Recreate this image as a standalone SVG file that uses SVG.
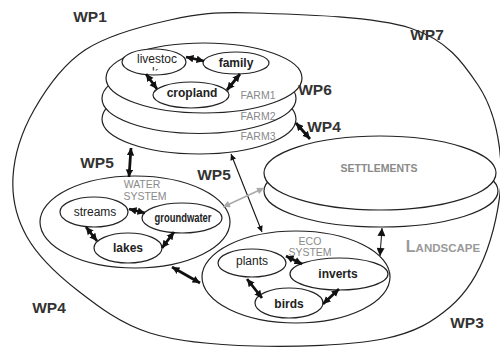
<svg xmlns="http://www.w3.org/2000/svg" width="500" height="347" viewBox="0 0 500 347">
<style>
  .ol{fill:#fff;stroke:#222;stroke-width:1.2}
  .bg{fill:none;stroke:#222;stroke-width:1.2}
  .wp{font-family:"Liberation Sans",Arial,sans-serif;font-weight:bold;font-size:15.5px;fill:#333;text-anchor:middle}
  .nd{font-family:"Liberation Sans",Arial,sans-serif;font-size:12px;fill:#222;text-anchor:middle}
  .b{font-weight:bold}
  .gl{font-family:"Liberation Sans",Arial,sans-serif;font-size:10.5px;fill:#8a8a8a;text-anchor:middle}
  .ar{stroke:#111;stroke-width:2.8;fill:none}
</style>
<defs>
  <marker id="dh" viewBox="0 0 10 10" refX="10" refY="5" markerWidth="7.5" markerHeight="8" markerUnits="userSpaceOnUse" orient="auto-start-reverse">
    <path d="M0,0 L10,5 L0,10 z" fill="#111"/>
  </marker>
  <marker id="th" viewBox="0 0 10 10" refX="10" refY="5" markerWidth="9" markerHeight="6" markerUnits="userSpaceOnUse" orient="auto-start-reverse">
    <path d="M0,0 L10,5 L0,10 z" fill="#111"/>
  </marker>
  <marker id="gh" viewBox="0 0 10 10" refX="10" refY="5" markerWidth="9" markerHeight="7" markerUnits="userSpaceOnUse" orient="auto-start-reverse">
    <path d="M0,0 L10,5 L0,10 z" fill="#aaa"/>
  </marker>
  <marker id="dm" viewBox="0 0 10 10" refX="10" refY="5" markerWidth="14" markerHeight="8" markerUnits="userSpaceOnUse" orient="auto-start-reverse">
    <path d="M0,0 L10,5 L0,10 z" fill="#111"/>
  </marker>
  <clipPath id="kclip"><rect x="150" y="66" width="10" height="4.5"/></clipPath>
</defs>

<g id="landscape">
  <path class="bg" d="M255,13 C295,14.3 372.8,16 410,28 C447.2,40 462.8,62.2 478,85 C493.2,107.8 499.5,137.5 501,165 C502.5,192.5 495.5,226.3 487,250 C478.5,273.7 467.3,292.2 450,307 C432.7,321.8 415.5,332.5 383,339 C350.5,345.5 293.8,347 255,346 C216.2,345 179.7,342.3 150,333 C120.3,323.7 97.5,306 77,290 C56.5,274 37.7,255.8 27,237 C16.3,218.2 11.8,198.2 13,177 C14.2,155.8 22,131.2 34,110 C46,88.8 62.3,65 85,50 C107.7,35 141.7,26.2 170,20 C198.3,13.8 215,11.7 255,13 Z"/>
  <text x="443" y="252" font-family="'Liberation Sans',Arial,sans-serif" font-weight="bold" fill="#999" text-anchor="middle"><tspan font-size="16">L</tspan><tspan font-size="11.5">ANDSCAPE</tspan></text>
</g>

<g id="farms">
  <ellipse class="ol" cx="199" cy="119" rx="97" ry="35"/>
  <ellipse class="ol" cx="199" cy="98.5" rx="97" ry="35"/>
  <ellipse class="ol" cx="204" cy="78" rx="98" ry="35"/>
  <text class="gl" x="258" y="99">FARM1</text>
  <text class="gl" x="258" y="120">FARM2</text>
  <text class="gl" x="258" y="140">FARM3</text>
</g>
<g id="livestock">
  <ellipse class="ol" cx="154" cy="62" rx="32" ry="13"/>
  <text class="nd" x="157" y="63">livestoc</text>
  <text class="nd" x="155" y="76" clip-path="url(#kclip)">k</text>
</g>
<g id="family">
  <ellipse class="ol" cx="236" cy="63" rx="33" ry="11"/>
  <text class="nd b" x="236" y="67">family</text>
</g>
<g id="cropland">
  <ellipse class="ol" cx="191" cy="95" rx="38" ry="13"/>
  <text class="nd b" x="192" y="97">cropland</text>
</g>

<g id="settlements">
  <ellipse class="ol" cx="381" cy="191" rx="117" ry="36"/>
  <ellipse class="ol" cx="380" cy="173" rx="116" ry="37"/>
  <text x="379" y="172" font-family="'Liberation Sans',Arial,sans-serif" font-weight="bold" font-size="10.5" fill="#8a8a8a" text-anchor="middle">SETTLEMENTS</text>
</g>

<g id="water-system">
  <ellipse class="ol" cx="135" cy="222" rx="95" ry="46"/>
  <text class="gl" x="142" y="188" font-size="11">WATER</text>
  <text class="gl" x="145" y="200" font-size="11">SYSTEM</text>
</g>
<g id="streams">
  <ellipse class="ol" cx="94" cy="212" rx="34" ry="15"/>
  <text class="nd" x="95" y="216">streams</text>
</g>
<g id="groundwater">
  <ellipse class="ol" cx="182" cy="218" rx="40" ry="15"/>
  <text class="nd b" x="183" y="222" textLength="57" lengthAdjust="spacingAndGlyphs">groundwater</text>
</g>
<g id="lakes">
  <ellipse class="ol" cx="128" cy="248" rx="34" ry="15"/>
  <text class="nd b" x="128" y="252">lakes</text>
</g>

<g id="ecosystem">
  <ellipse class="ol" cx="296" cy="277" rx="94" ry="46"/>
  <text class="gl" x="310" y="245" font-size="11">ECO</text>
  <text class="gl" x="310" y="256" font-size="11">SYSTEM</text>
</g>
<g id="plants">
  <ellipse class="ol" cx="252" cy="263" rx="34" ry="14"/>
  <text class="nd" x="252" y="265">plants</text>
</g>
<g id="inverts">
  <ellipse class="ol" cx="339" cy="274" rx="49" ry="16"/>
  <text class="nd b" x="338" y="278">inverts</text>
</g>
<g id="birds">
  <ellipse class="ol" cx="289" cy="303" rx="34" ry="15"/>
  <text class="nd b" x="289" y="308">birds</text>
</g>

<g id="connectors">
  <line class="ar" x1="186" y1="57" x2="204" y2="61" marker-start="url(#dh)" marker-end="url(#dh)"/>
  <line class="ar" x1="146" y1="74" x2="157" y2="89" marker-start="url(#dh)" marker-end="url(#dh)"/>
  <line class="ar" x1="240" y1="74" x2="227" y2="90" marker-start="url(#dh)" marker-end="url(#dh)"/>
  <line class="ar" x1="129" y1="209" x2="145" y2="213" marker-start="url(#dh)" marker-end="url(#dh)"/>
  <line class="ar" x1="86" y1="227" x2="97" y2="241" marker-start="url(#dh)" marker-end="url(#dh)"/>
  <line class="ar" x1="174" y1="232" x2="162" y2="248" marker-start="url(#dh)" marker-end="url(#dh)"/>
  <line class="ar" x1="172" y1="267" x2="200" y2="283" marker-start="url(#dh)" marker-end="url(#dh)"/>
  <line class="ar" x1="286" y1="256" x2="302" y2="264" marker-start="url(#dh)" marker-end="url(#dh)"/>
  <line class="ar" x1="247" y1="279" x2="262" y2="298" marker-start="url(#dh)" marker-end="url(#dh)"/>
  <line class="ar" x1="323" y1="304" x2="339" y2="289" marker-start="url(#dh)" marker-end="url(#dh)"/>
  <line class="ar" x1="296" y1="123" x2="310" y2="139" marker-start="url(#dh)" marker-end="url(#dh)"/>
  <line class="ar" x1="131" y1="148" x2="129" y2="177" marker-start="url(#dh)" marker-end="url(#dh)"/>
  <line stroke="#111" stroke-width="1" x1="382" y1="228" x2="380" y2="256" marker-start="url(#dm)" marker-end="url(#dm)"/>
  <line stroke="#111" stroke-width="1.1" x1="231" y1="154" x2="262" y2="232" marker-start="url(#th)" marker-end="url(#th)"/>
  <line stroke="#aaa" stroke-width="1.6" x1="264" y1="188" x2="223" y2="207" marker-start="url(#gh)" marker-end="url(#gh)"/>
</g>

<g id="wp-labels">
  <text class="wp" x="90" y="22">WP1</text>
  <text class="wp" x="427" y="40">WP7</text>
  <text class="wp" x="315" y="95">WP6</text>
  <text class="wp" x="324" y="132">WP4</text>
  <text class="wp" x="97" y="168">WP5</text>
  <text class="wp" x="214" y="180">WP5</text>
  <text class="wp" x="49" y="313">WP4</text>
  <text class="wp" x="467" y="328">WP3</text>
</g>
</svg>
